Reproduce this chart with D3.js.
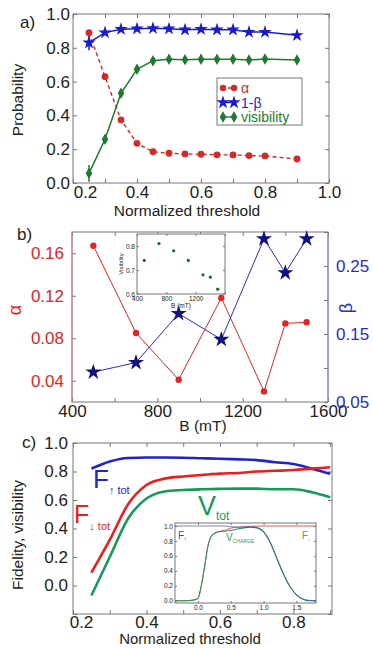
<!DOCTYPE html>
<html>
<head>
<meta charset="utf-8">
<script src="https://cdn.jsdelivr.net/npm/d3@7"></script>
<style>
  body { margin: 0; background: #fff; }
  text { font-family: "Liberation Sans", Arial, sans-serif; }
</style>
</head>
<body>
<svg id="fig" width="373" height="648"></svg>
<script>
// ---------- data: panel a ----------
const thrA = [0.25, 0.3, 0.35, 0.4, 0.45, 0.5, 0.55, 0.6, 0.65, 0.7, 0.75, 0.8, 0.9];
const alphaA = [0.889, 0.629, 0.373, 0.235, 0.185, 0.176, 0.172, 0.170, 0.167, 0.166, 0.162, 0.160, 0.142];
const oneMinusBetaA = [0.830, 0.890, 0.910, 0.913, 0.915, 0.913, 0.907, 0.910, 0.907, 0.907, 0.893, 0.893, 0.874];
const visA = [0.057, 0.259, 0.531, 0.673, 0.724, 0.732, 0.730, 0.732, 0.732, 0.732, 0.728, 0.734, 0.728];
const betaErrA = [0.045, 0, 0, 0, 0, 0, 0, 0, 0, 0, 0, 0, 0];
const visErrA = [0.05, 0, 0, 0, 0, 0, 0, 0, 0, 0, 0, 0, 0];
const legendA = ["α", "1-β", "visibility"];

// ---------- data: panel b ----------
const fieldB = [500, 700, 900, 1100, 1300, 1400, 1500];
const alphaB = [0.167, 0.085, 0.041, 0.118, 0.030, 0.094, 0.095];
const betaB = [0.094, 0.108, 0.180, 0.142, 0.290, 0.240, 0.290];
const visB = [0.74, 0.81, 0.78, 0.74, 0.68, 0.67, 0.62];

// ---------- data: panel c ----------
const thrC = [0.25, 0.3, 0.35, 0.4, 0.45, 0.5, 0.55, 0.6, 0.65, 0.7, 0.75, 0.8, 0.85, 0.9];
const fUpC = [0.82, 0.87, 0.895, 0.898, 0.898, 0.897, 0.893, 0.89, 0.885, 0.88, 0.865, 0.852, 0.82, 0.785];
const fDownC = [0.09, 0.32, 0.57, 0.705, 0.75, 0.765, 0.775, 0.785, 0.79, 0.80, 0.805, 0.81, 0.82, 0.83];
const vTotC = [-0.07, 0.20, 0.47, 0.61, 0.66, 0.67, 0.675, 0.678, 0.68, 0.68, 0.675, 0.675, 0.655, 0.62];

// inset c (charge-sensor readout)
const thrIn = [-0.35, -0.2, -0.1, 0.0, 0.05, 0.1, 0.15, 0.2, 0.25, 0.3, 0.4, 0.5, 0.6, 0.7, 0.8, 0.9, 1.0, 1.1, 1.2, 1.3, 1.4, 1.5, 1.6, 1.7, 1.8];
const vChargeIn = [0, 0, 0.005, 0.03, 0.2, 0.45, 0.72, 0.86, 0.9, 0.92, 0.93, 0.94, 0.96, 0.975, 0.985, 0.975, 0.92, 0.78, 0.57, 0.36, 0.19, 0.08, 0.02, 0, 0];
const fDownIn = [0, 0, 0.005, 0.03, 0.2, 0.45, 0.72, 0.86, 0.9, 0.92, 0.94, 0.97, 0.985, 0.99, 0.995, 0.998, 1, 1, 1, 1, 1, 1, 1, 1, 1];
const fUpIn = [1, 1, 1, 1, 1, 1, 1, 1, 1, 1, 1, 0.99, 0.985, 0.985, 0.99, 0.98, 0.93, 0.79, 0.58, 0.37, 0.2, 0.085, 0.025, 0.005, 0];

const svg = d3.select("#fig");
const GRID = "#777";

// box with inward ticks on all four sides (matlab look)
function frame(g, x, y, o) {
  const [x0, x1] = x.range(), [y0, y1] = y.range();
  const tl = o.tl || 4;
  g.append("rect").attr("x", x0).attr("y", y1)
    .attr("width", x1 - x0).attr("height", y0 - y1)
    .attr("fill", "#fff").attr("stroke", GRID);

  const axes = [];
  axes.push(g.append("g").attr("transform", `translate(0,${y0})`)
    .call(d3.axisBottom(x).tickValues(o.xt).tickFormat(o.xf).tickSizeInner(-tl).tickSizeOuter(0).tickPadding(o.xpad)));
  axes.push(g.append("g").attr("transform", `translate(0,${y1})`)
    .call(d3.axisTop(x).tickValues(o.xt).tickFormat("").tickSizeInner(-tl).tickSizeOuter(0)));
  const left = g.append("g").attr("transform", `translate(${x0},0)`)
    .call(d3.axisLeft(y).tickValues(o.yt).tickFormat(o.yf).tickSizeInner(-tl).tickSizeOuter(0).tickPadding(o.ypad));
  axes.push(left);
  const y2 = o.y2 || y;
  const right = g.append("g").attr("transform", `translate(${x1},0)`)
    .call(d3.axisRight(y2).tickValues(o.y2t || o.yt).tickFormat(o.y2f || "").tickSizeInner(-tl).tickSizeOuter(0).tickPadding(o.ypad));
  axes.push(right);

  axes.forEach(a => {
    a.select(".domain").remove();
    a.selectAll("line").attr("stroke", GRID);
    a.selectAll("text").attr("font-size", o.fs).attr("fill", "#222")
      .attr("font-family", '"Liberation Sans", Arial, sans-serif');
  });
  return { left, right, bottom: axes[0] };
}

const even = v => Math.round(v * 10) % 2 === 0 ? v.toFixed(1) : "";

// ================= panel a =================
{
  const g = svg.append("g");
  const x = d3.scaleLinear([0.2, 1.0], [73, 329]);
  const y = d3.scaleLinear([0, 1], [183, 14]);
  const ax = frame(g, x, y, {
    xt: [0.2, 0.3, 0.4, 0.5, 0.6, 0.7, 0.8, 0.9, 1.0], xf: even,
    yt: [0, 0.2, 0.4, 0.6, 0.8, 1.0], yf: d => d.toFixed(1),
    xpad: 3, ypad: 3, fs: 17
  });
  ax.bottom.selectAll("text").filter(d => d === 0.2).attr("dx", 12);

  const red = "#d42a2a", blue = "#1a1ad0", green = "#1e7a2e";
  const line = vals => d3.line().x((d, i) => x(thrA[i])).y(d => y(d))(vals);

  g.append("path").attr("d", line(alphaA)).attr("fill", "none")
    .attr("stroke", red).attr("stroke-width", 1.4).attr("stroke-dasharray", "4,3");
  g.append("path").attr("d", line(oneMinusBetaA)).attr("fill", "none")
    .attr("stroke", blue).attr("stroke-width", 1.5);
  g.append("path").attr("d", line(visA)).attr("fill", "none")
    .attr("stroke", green).attr("stroke-width", 1.5);

  // error bars
  thrA.forEach((t, i) => {
    if (betaErrA[i] > 0) g.append("line").attr("x1", x(t)).attr("x2", x(t))
      .attr("y1", y(oneMinusBetaA[i] - betaErrA[i])).attr("y2", y(oneMinusBetaA[i] + betaErrA[i]))
      .attr("stroke", blue).attr("stroke-width", 1.5);
    if (visErrA[i] > 0) g.append("line").attr("x1", x(t)).attr("x2", x(t))
      .attr("y1", y(visA[i] - visErrA[i])).attr("y2", y(visA[i] + visErrA[i]))
      .attr("stroke", green).attr("stroke-width", 1.5);
  });

  const star = d3.symbol(d3.symbolStar, 55)();
  const diamond = d3.symbol(d3.symbolDiamond, 38)();
  g.selectAll(".ra").data(alphaA).join("circle")
    .attr("cx", (d, i) => x(thrA[i])).attr("cy", d => y(d)).attr("r", 3.4).attr("fill", red);
  g.selectAll(".bb").data(oneMinusBetaA).join("path").attr("d", star)
    .attr("transform", (d, i) => `translate(${x(thrA[i])},${y(d)})`).attr("fill", blue);
  g.selectAll(".gv").data(visA).join("path").attr("d", diamond)
    .attr("transform", (d, i) => `translate(${x(thrA[i])},${y(d)})`).attr("fill", green);

  // legend
  const lg = g.append("g").attr("transform", "translate(217,78)");
  lg.append("rect").attr("width", 85).attr("height", 47).attr("fill", "#fff").attr("stroke", GRID);
  const cols = [red, blue, green];
  legendA.forEach((name, i) => {
    const yy = 10 + i * 14.5;
    [6, 17].forEach(xx => {
      if (i === 0) lg.append("circle").attr("cx", xx).attr("cy", yy).attr("r", 3.2).attr("fill", red);
      else lg.append("path").attr("d", i === 1 ? star : diamond)
        .attr("transform", `translate(${xx},${yy})`).attr("fill", cols[i]);
    });
    lg.append("line").attr("x1", 6).attr("x2", 17).attr("y1", yy).attr("y2", yy)
      .attr("stroke", cols[i]).attr("stroke-width", 1.4).attr("stroke-dasharray", i === 0 ? "3,2" : null);
    lg.append("text").attr("x", 24).attr("y", yy + 5).attr("font-size", 14).attr("fill", cols[i]).text(name);
  });

  g.append("text").attr("x", 20).attr("y", 28).attr("font-size", 17).attr("fill", "#222").text("a)");
  g.append("text").attr("x", 187).attr("y", 216).attr("text-anchor", "middle")
    .attr("font-size", 15.5).attr("fill", "#222").text("Normalized threshold");
  g.append("text").attr("transform", "translate(23,100) rotate(-90)").attr("text-anchor", "middle")
    .attr("font-size", 15.5).attr("fill", "#222").text("Probability");
}

// ================= panel b =================
{
  const g = svg.append("g");
  const x = d3.scaleLinear([400, 1600], [72, 328]);
  const ya = d3.scaleLinear([0.02, 0.18], [402, 232]);
  const yb = d3.scaleLinear([0.05, 0.30], [402, 232]);
  const red = "#e42424", blue = "#2a2ad8", navy = "#12127e";
  const ax = frame(g, x, ya, {
    xt: [400, 600, 800, 1000, 1200, 1400, 1600], xf: d => d % 400 === 0 ? d : "",
    yt: [0.04, 0.08, 0.12, 0.16], yf: d => d.toFixed(2),
    y2: yb, y2t: [0.05, 0.1, 0.15, 0.2, 0.25, 0.3],
    y2f: d => [0.05, 0.15, 0.25].some(v => Math.abs(v - d) < 1e-6) ? d.toFixed(2) : "",
    xpad: 3, ypad: 8, fs: 17
  });
  ax.left.selectAll("text").attr("fill", red);
  ax.right.selectAll("text").attr("fill", blue);
  g.append("line").attr("x1", 72).attr("x2", 72).attr("y1", 232).attr("y2", 402).attr("stroke", "#e77");
  g.append("line").attr("x1", 328).attr("x2", 328).attr("y1", 232).attr("y2", 402).attr("stroke", "#88e");

  g.append("path").attr("d", d3.line().x((d, i) => x(fieldB[i])).y(d => ya(d))(alphaB))
    .attr("fill", "none").attr("stroke", red).attr("stroke-width", 1);
  g.append("path").attr("d", d3.line().x((d, i) => x(fieldB[i])).y(d => yb(d))(betaB))
    .attr("fill", "none").attr("stroke", blue).attr("stroke-width", 1);
  g.selectAll(".ra").data(alphaB).join("circle")
    .attr("cx", (d, i) => x(fieldB[i])).attr("cy", d => ya(d)).attr("r", 3.2).attr("fill", red);
  const star = d3.symbol(d3.symbolStar, 80)();
  g.selectAll(".bb").data(betaB).join("path").attr("d", star)
    .attr("transform", (d, i) => `translate(${x(fieldB[i])},${yb(d)})`).attr("fill", navy);

  // inset: visibility vs B
  const xi = d3.scaleLinear([400, 1600], [137, 225]);
  const yi = d3.scaleLinear([0.6, 0.85], [294, 234]);
  frame(g, xi, yi, {
    xt: [400, 800, 1200, 1600], xf: d => d < 1600 ? d : "",
    yt: [0.6, 0.7, 0.8], yf: d => d.toFixed(1),
    xpad: 2, ypad: 2, fs: 6.5, tl: 2
  });
  g.selectAll(".vi").data(visB).join("circle")
    .attr("cx", (d, i) => xi(fieldB[i])).attr("cy", d => yi(d)).attr("r", 1.6).attr("fill", "#1e6a2e");
  g.append("text").attr("x", 181).attr("y", 308).attr("text-anchor", "middle")
    .attr("font-size", 6.5).attr("fill", "#222").text("B (mT)");
  g.append("text").attr("transform", "translate(123,264) rotate(-90)").attr("text-anchor", "middle")
    .attr("font-size", 6).attr("fill", "#222").text("Visibility");

  g.append("text").attr("x", 17).attr("y", 240).attr("font-size", 17).attr("fill", "#222").text("b)");
  g.append("text").attr("x", 203).attr("y", 431).attr("text-anchor", "middle")
    .attr("font-size", 15.5).attr("fill", "#222").text("B (mT)");
  g.append("text").attr("transform", "translate(21,310) rotate(-90)").attr("text-anchor", "middle")
    .attr("font-size", 18).attr("fill", red).text("α");
  g.append("text").attr("transform", "translate(352,308) rotate(-90)").attr("text-anchor", "middle")
    .attr("font-size", 18).attr("fill", blue).text("β");
}

// ================= panel c =================
{
  const g = svg.append("g");
  const x = d3.scaleLinear([0.2, 0.905], [73, 332]);
  const y = d3.scaleLinear([-0.2, 1.0], [614, 443]);
  const ax = frame(g, x, y, {
    xt: [0.2, 0.3, 0.4, 0.5, 0.6, 0.7, 0.8, 0.9], xf: even,
    yt: [-0.2, 0, 0.2, 0.4, 0.6, 0.8, 1.0], yf: d => d >= 0 ? d.toFixed(1) : "",
    xpad: 2, ypad: 5, fs: 17
  });
  ax.bottom.selectAll("text").filter(d => d === 0.2).attr("dx", 8);

  const red = "#ee1c1c", blue = "#2222cc", green = "#17995a";
  const line = vals => d3.line().x((d, i) => x(thrC[i])).y(d => y(d)).curve(d3.curveMonotoneX)(vals);
  [[vTotC, green], [fUpC, blue], [fDownC, red]].forEach(([v, c]) =>
    g.append("path").attr("d", line(v)).attr("fill", "none").attr("stroke", c).attr("stroke-width", 2.6));

  // inset
  const xi = d3.scaleLinear([-0.35, 1.8], [175, 316]);
  const yi = d3.scaleLinear([-0.03, 1.04], [603, 523]);
  frame(g, xi, yi, {
    xt: [0, 0.5, 1.0, 1.5], xf: d => d.toFixed(1),
    yt: [0, 0.2, 0.4, 0.6, 0.8, 1.0], yf: d => d.toFixed(1),
    xpad: 2, ypad: 2, fs: 6.5, tl: 2
  });
  const li = vals => d3.line().x((d, i) => xi(thrIn[i])).y(d => yi(d)).curve(d3.curveMonotoneX)(vals);
  g.append("path").attr("d", li(fDownIn)).attr("fill", "none").attr("stroke", "#e55").attr("stroke-width", 1);
  g.append("path").attr("d", li(vChargeIn)).attr("fill", "none").attr("stroke", "#2a9a5a").attr("stroke-width", 1.1);
  g.append("path").attr("d", li(fUpIn)).attr("fill", "none").attr("stroke", "#3344aa").attr("stroke-width", 1).attr("stroke-opacity", 0.65);

  const sub = (tx, ty, main, s, col, fs, sfs, dy) => {
    const t = g.append("text").attr("x", tx).attr("y", ty).attr("fill", col).attr("font-size", fs).text(main);
    t.append("tspan").attr("font-size", sfs).attr("dy", dy).text(s);
  };
  sub(178, 539, "F", "↑", "#3344cc", 10, 5, 2);
  sub(226, 541, "V", "CHARGE", "#2a9a5a", 10, 5, 2);
  sub(302, 539, "F", "↓", "#e55", 10, 5, 2);

  // big labels
  sub(93, 488, "F", "↑ tot", blue, 26, 11, 6);
  sub(74, 523, "F", "↓ tot", red, 25, 11, 7);
  sub(198, 515, "V", "tot", green, 27, 12, 5);

  g.append("text").attr("x", 22).attr("y", 448).attr("font-size", 17).attr("fill", "#222").text("c)");
  g.append("text").attr("x", 190).attr("y", 644).attr("text-anchor", "middle")
    .attr("font-size", 15).attr("fill", "#222").text("Normalized threshold");
  g.append("text").attr("transform", "translate(23,535) rotate(-90)").attr("text-anchor", "middle")
    .attr("font-size", 15.5).attr("fill", "#222").text("Fidelity, visibility");
}
</script>
</body>
</html>
